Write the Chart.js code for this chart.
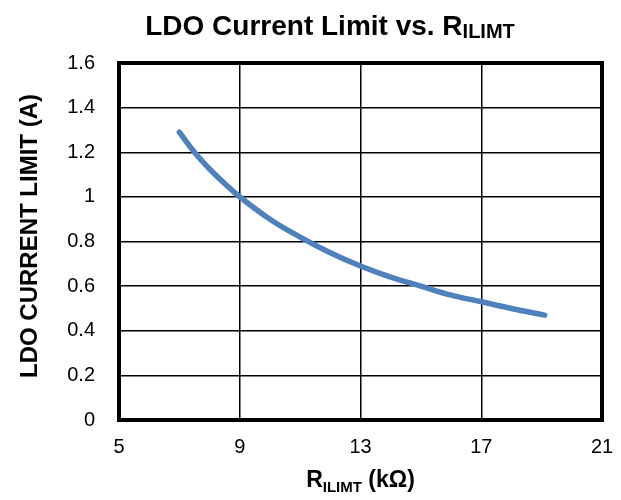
<!DOCTYPE html>
<html>
<head>
<meta charset="utf-8">
<script src="https://cdn.jsdelivr.net/npm/chart.js@4"></script>
<style>
  html, body { margin: 0; padding: 0; background: #fff; }
  #wrap { width: 621px; height: 500px; }
</style>
</head>
<body>
<div id="wrap"><canvas id="c" width="621" height="500"></canvas></div>
<script>
// Resistor value (kΩ) and the resulting LDO current limit (A)
const resistanceK = [7.0, 7.5, 8.0, 8.5, 9.0, 10.0, 11.0, 12.0, 13.0, 14.0, 15.0, 16.0, 17.0, 18.0, 19.1];
const currentLimitA = [1.29, 1.20, 1.125, 1.06, 1.00, 0.90, 0.82, 0.75, 0.69, 0.64, 0.60, 0.56, 0.53, 0.50, 0.47];
const xTicks = [5, 9, 13, 17, 21];
const yTicks = [0, 0.2, 0.4, 0.6, 0.8, 1, 1.2, 1.4, 1.6];

const FONT = '"Liberation Sans", Arial, sans-serif';

// Draws bold text with subscript runs: [[text, isSub], ...], centred on cx
function drawRich(ctx, parts, cx, baseline, size, subSize, subDrop) {
  let total = 0;
  parts.forEach(p => {
    ctx.font = 'bold ' + (p[1] ? subSize : size) + 'px ' + FONT;
    total += ctx.measureText(p[0]).width;
  });
  let x = cx - total / 2;
  parts.forEach(p => {
    ctx.font = 'bold ' + (p[1] ? subSize : size) + 'px ' + FONT;
    ctx.fillText(p[0], x, baseline + (p[1] ? subDrop : 0));
    x += ctx.measureText(p[0]).width;
  });
}

const decorations = {
  id: 'decorations',
  afterDraw(chart) {
    const ctx = chart.ctx;
    const a = chart.chartArea;
    ctx.save();
    // frame around the plot area
    ctx.strokeStyle = '#000';
    ctx.lineWidth = 4;
    ctx.strokeRect(a.left, a.top, a.right - a.left, a.bottom - a.top);

    ctx.fillStyle = '#000';
    ctx.textAlign = 'left';
    ctx.textBaseline = 'alphabetic';
    // chart title
    drawRich(ctx, [['LDO Current Limit vs. R', false], ['ILIMT', true]], 330, 35, 28, 20, 3);
    // x axis title
    drawRich(ctx, [['R', false], ['ILIMT', true], [' (k\u03A9)', false]], (a.left + a.right) / 2, 487, 23, 15, 5);
    // y axis title
    ctx.translate(37, 236);
    ctx.rotate(-Math.PI / 2);
    ctx.font = 'bold 24px ' + FONT;
    ctx.textAlign = 'center';
    ctx.fillText('LDO CURRENT LIMIT (A)', 0, 0);
    ctx.restore();
  }
};

new Chart(document.getElementById('c'), {
  type: 'scatter',
  data: {
    datasets: [{
      data: resistanceK.map((r, i) => ({ x: r, y: currentLimitA[i] })),
      showLine: true,
      borderColor: '#4F81BD',
      borderWidth: 5.5,
      borderCapStyle: 'round',
      pointRadius: 0,
      tension: 0.4,
      fill: false
    }]
  },
  options: {
    responsive: false,
    animation: false,
    layout: { padding: { top: 63, right: 19, left: 0, bottom: 0 } },
    plugins: { legend: { display: false }, tooltip: { enabled: false } },
    scales: {
      x: {
        type: 'linear',
        min: 5, max: 21,
        afterBuildTicks: s => { s.ticks = xTicks.map(v => ({ value: v })); },
        afterFit: s => { s.height = 80; s.paddingLeft = 0; s.paddingRight = 0; },
        grid: { color: '#000', lineWidth: 1.5, drawTicks: false },
        border: { display: false },
        ticks: { color: '#000', padding: 15, font: { family: FONT, size: 20 }, callback: v => String(v) }
      },
      y: {
        type: 'linear',
        min: 0, max: 1.6,
        afterBuildTicks: s => { s.ticks = yTicks.map(v => ({ value: v })); },
        afterFit: s => { s.width = 119; s.paddingTop = 0; s.paddingBottom = 0; },
        grid: { color: '#000', lineWidth: 1.5, drawTicks: false },
        border: { display: false },
        ticks: { color: '#000', padding: 24, font: { family: FONT, size: 20 }, callback: v => String(v) }
      }
    }
  },
  plugins: [decorations]
});
</script>
</body>
</html>
